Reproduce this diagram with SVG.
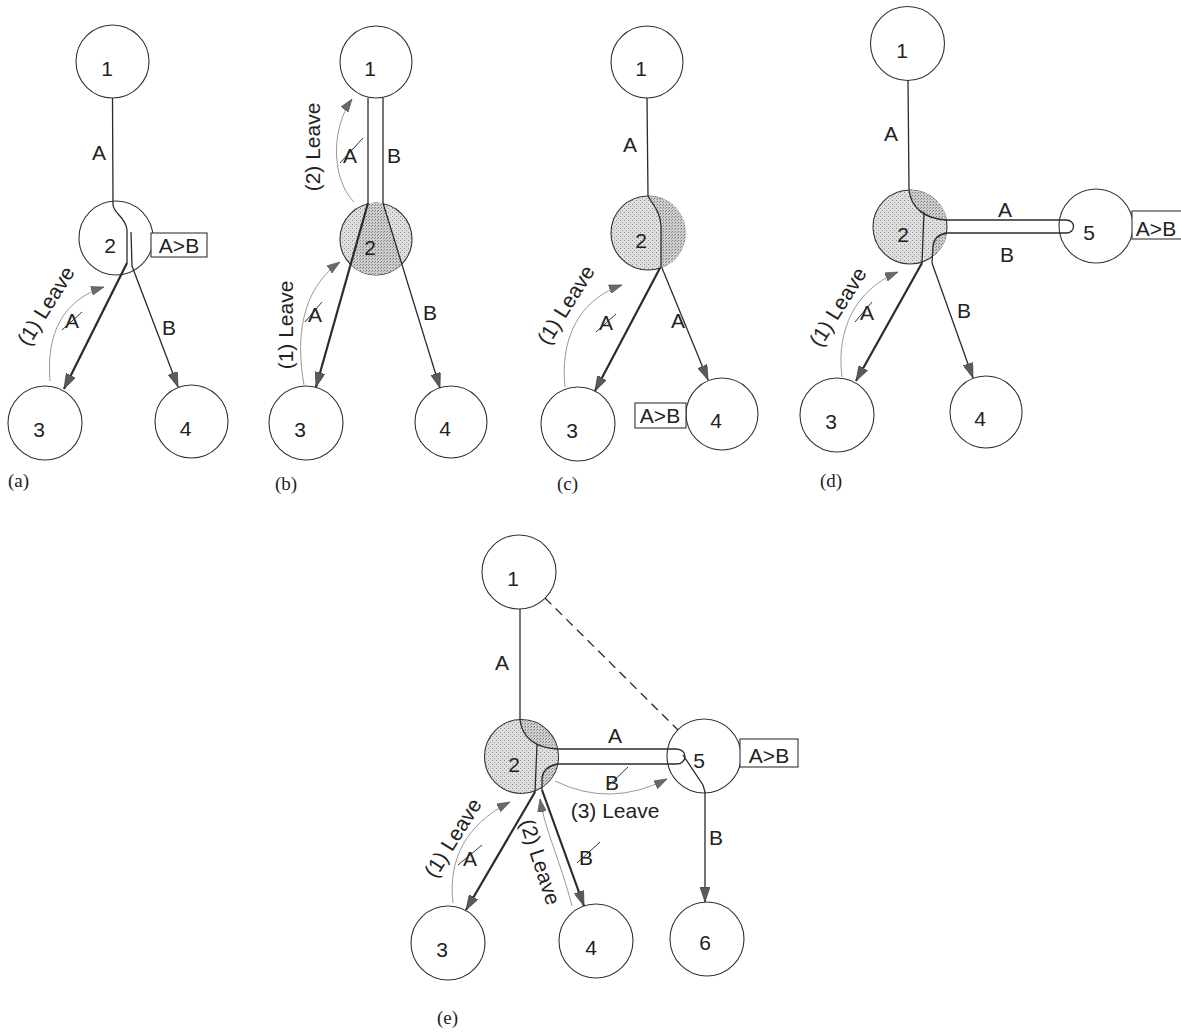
<svg xmlns="http://www.w3.org/2000/svg" width="1181" height="1032" viewBox="0 0 1181 1032">
<defs>
<style>
.node{fill:#fff;stroke:#333;stroke-width:1.1}
.busy{fill:url(#stip);stroke:#333;stroke-width:1.1}
.shade{fill:url(#stipDark);stroke:none}
.lbl{font-family:"Liberation Sans",Arial,sans-serif;font-size:21px;fill:#222;text-anchor:middle}
.cap{font-family:"Liberation Serif","Times New Roman",serif;font-size:19px;fill:#222}
.e{fill:none;stroke:#2b2b2b;stroke-width:1.3}
.thick{stroke-width:2.2}
.lv{fill:none;stroke:#8c8c8c;stroke-width:0.9}
.note{fill:#fff;stroke:#333;stroke-width:1.1}
.strike{stroke:#333;stroke-width:1}
.dash{stroke-dasharray:9 6}
</style>
<!-- stippled fill for a node that holds a forwarding state -->
<pattern id="stip" width="4" height="4" patternUnits="userSpaceOnUse">
  <rect width="4" height="4" fill="#dedede"/>
  <rect x="0" y="0" width="1" height="1" fill="#8c8c8c"/>
  <rect x="2" y="2" width="1" height="1" fill="#a0a0a0"/>
</pattern>
<pattern id="stipDark" width="3" height="3" patternUnits="userSpaceOnUse">
  <rect width="3" height="3" fill="#cdcdcd"/>
  <rect x="0" y="0" width="1" height="1" fill="#7a7a7a"/>
  <rect x="2" y="1" width="1" height="1" fill="#959595"/>
</pattern>
<marker id="head" viewBox="0 0 15 10" refX="15" refY="5" markerWidth="15" markerHeight="10" markerUnits="userSpaceOnUse" orient="auto"><path d="M0,0 L15,5 L0,10 Z" fill="#5a5a5a" stroke="#333" stroke-width="0.6"/></marker>
<marker id="lhead" viewBox="0 0 13 9" refX="13" refY="4.5" markerWidth="13" markerHeight="9" markerUnits="userSpaceOnUse" orient="auto"><path d="M0,0 L13,4.5 L0,9 Z" fill="#6a6a6a" stroke="#444" stroke-width="0.5"/></marker>
</defs>
<rect width="1181" height="1032" fill="#fff"/>

<!-- ===== panel (a) ===== -->
<g id="a-n1"><circle class="node" cx="112.5" cy="61.5" r="36.5"/><text class="lbl" x="107" y="76">1</text></g>
<g id="a-n2"><circle class="node" cx="116" cy="238" r="37"/><text class="lbl" x="110" y="253">2</text>
  <rect class="note" x="151" y="233" width="56" height="24"/><text class="lbl" x="179" y="253">A&gt;B</text></g>
<g id="a-n3"><circle class="node" cx="45" cy="423" r="37"/><text class="lbl" x="39" y="437">3</text></g>
<g id="a-n4"><circle class="node" cx="191.5" cy="421.5" r="36.5"/><text class="lbl" x="185.5" y="436">4</text></g>
<g id="a-edges">
  <path class="e" d="M112.5,98 L113,205 C114,214 126,217 127,230 L127,263"/>
  <path class="e thick" d="M127,263 L64,389" marker-end="url(#head)"/>
  <path class="e" d="M131,232 L132,266 L178,387" marker-end="url(#head)"/>
  <path class="lv" d="M50,381 C46,335 62,300 104,287" marker-end="url(#lhead)"/>
  <text class="lbl" x="99" y="160">A</text>
  <text class="lbl" x="72" y="328">A</text><line class="strike" x1="62" y1="330" x2="82" y2="312"/>
  <text class="lbl" x="169" y="335">B</text>
  <text class="lbl" transform="translate(46,306) rotate(-58)" y="7">(1) Leave</text>
</g>
<text class="cap" x="8" y="487">(a)</text>

<!-- ===== panel (b) ===== -->
<g id="b-n1"><circle class="node" cx="376" cy="62" r="36"/><text class="lbl" x="370" y="76">1</text></g>
<g id="b-n2"><circle class="busy" cx="376" cy="239" r="36"/>
  <path class="shade" d="M368,203 L350.6,264.7 A36,36 0 0 0 401.8,264 L383,203 Z"/>
  <text class="lbl" x="370" y="255">2</text></g>
<g id="b-n3"><circle class="node" cx="306" cy="423" r="37"/><text class="lbl" x="300" y="437">3</text></g>
<g id="b-n4"><circle class="node" cx="451" cy="422" r="36"/><text class="lbl" x="445" y="436">4</text></g>
<g id="b-edges">
  <path class="e" d="M368,98 L368,203"/>
  <path class="e" d="M383,98 L383,203"/>
  <path class="e thick" d="M368,203 L316,387" marker-end="url(#head)"/>
  <path class="e" d="M383,203 L440,388" marker-end="url(#head)"/>
  <path class="lv" d="M354,202 C332,180 330,130 352,99" marker-end="url(#lhead)"/>
  <path class="lv" d="M304,385 C296,340 300,290 340,262" marker-end="url(#lhead)"/>
  <text class="lbl" transform="translate(313,147) rotate(-90)" y="7">(2) Leave</text>
  <text class="lbl" transform="translate(286,325) rotate(-90)" y="7">(1) Leave</text>
  <text class="lbl" x="350" y="163">A</text><line class="strike" x1="340" y1="163" x2="363" y2="138"/>
  <text class="lbl" x="394" y="163">B</text>
  <text class="lbl" x="315" y="322">A</text><line class="strike" x1="305" y1="322" x2="322" y2="302"/>
  <text class="lbl" x="430" y="320">B</text>
</g>
<text class="cap" x="275" y="490">(b)</text>

<!-- ===== panel (c) ===== -->
<g id="c-n1"><circle class="node" cx="647" cy="62" r="36"/><text class="lbl" x="641" y="76">1</text></g>
<g id="c-n2"><circle class="busy" cx="648" cy="233" r="37"/>
  <path class="shade" d="M648,196 C652,204 660,210 661,226 L661,268 A37,37 0 0 0 648,196 Z"/>
  <text class="lbl" x="641" y="248">2</text></g>
<g id="c-n3"><circle class="node" cx="578" cy="424" r="37"/><text class="lbl" x="572" y="438">3</text></g>
<g id="c-n4"><circle class="node" cx="722" cy="414" r="36"/><text class="lbl" x="716" y="428">4</text>
  <rect class="note" x="635" y="403" width="51" height="25"/><text class="lbl" x="660" y="423">A&gt;B</text></g>
<g id="c-edges">
  <path class="e" d="M647,98 L648,196 C652,204 660,210 661,226 L661,268"/>
  <path class="e thick" d="M660,268 L595,391" marker-end="url(#head)"/>
  <path class="e" d="M662,268 L708,380" marker-end="url(#head)"/>
  <path class="lv" d="M565,387 C560,340 578,300 622,285" marker-end="url(#lhead)"/>
  <text class="lbl" x="630" y="152">A</text>
  <text class="lbl" x="606" y="330">A</text><line class="strike" x1="596" y1="332" x2="616" y2="314"/>
  <text class="lbl" x="678" y="328">A</text>
  <text class="lbl" transform="translate(566,305) rotate(-58)" y="7">(1) Leave</text>
</g>
<text class="cap" x="557" y="490">(c)</text>

<!-- ===== panel (d) ===== -->
<g id="d-n1"><circle class="node" cx="907.5" cy="43.5" r="37"/><text class="lbl" x="902" y="58">1</text></g>
<g id="d-n2"><circle class="busy" cx="910" cy="227" r="37"/>
  <path class="shade" d="M909,190 C911,208 925,219 947,220 A37,37 0 0 0 909,190 Z"/>
  <path class="shade" d="M947,233 C940,234 934,238 933,246 L932,257 A37,37 0 0 0 947,233 Z"/>
  <text class="lbl" x="903" y="242">2</text></g>
<g id="d-n5"><circle class="node" cx="1096" cy="226" r="37"/><text class="lbl" x="1089" y="240">5</text>
  <rect class="note" x="1132" y="211" width="55" height="28"/><text class="lbl" x="1156" y="236">A&gt;B</text></g>
<g id="d-n3"><circle class="node" cx="837" cy="415" r="37"/><text class="lbl" x="831" y="429">3</text></g>
<g id="d-n4"><circle class="node" cx="986" cy="412" r="36"/><text class="lbl" x="980" y="426">4</text></g>
<g id="d-edges">
  <path class="e" d="M908,80 L909,190 C911,208 925,219 947,220 L1066,220 C1076,220 1076,233 1066,233 L947,233 C940,234 934,238 933,246 L932,263"/>
  <path class="e" d="M932,263 L973,378" marker-end="url(#head)"/>
  <path class="e" d="M924,212 L922,263"/>
  <path class="e thick" d="M922,263 L856,381" marker-end="url(#head)"/>
  <path class="lv" d="M842,377 C836,330 855,290 898,272" marker-end="url(#lhead)"/>
  <text class="lbl" x="891" y="141">A</text>
  <text class="lbl" x="1005" y="217">A</text>
  <text class="lbl" x="1007" y="262">B</text>
  <text class="lbl" x="964" y="318">B</text>
  <text class="lbl" x="867" y="320">A</text><line class="strike" x1="855" y1="322" x2="872" y2="302"/>
  <text class="lbl" transform="translate(838,307) rotate(-58)" y="7">(1) Leave</text>
</g>
<text class="cap" x="820" y="487">(d)</text>

<!-- ===== panel (e) ===== -->
<g id="e-n1"><circle class="node" cx="519" cy="572" r="37"/><text class="lbl" x="513" y="586">1</text></g>
<g id="e-n2"><circle class="busy" cx="521.5" cy="756.5" r="37"/>
  <path class="shade" d="M520,720 C522,737 535,748 557,749 A37,37 0 0 0 520,720 Z"/>
  <path class="shade" d="M557,765 C548,766 543,770 542,778 L542,787 A37,37 0 0 0 557,765 Z"/>
  <text class="lbl" x="514" y="772">2</text></g>
<g id="e-n5"><circle class="node" cx="704" cy="756" r="37"/><text class="lbl" x="699" y="768">5</text>
  <rect class="note" x="740" y="739" width="58" height="28"/><text class="lbl" x="769" y="763">A&gt;B</text></g>
<g id="e-n3"><circle class="node" cx="448" cy="943" r="37"/><text class="lbl" x="442" y="957">3</text></g>
<g id="e-n4"><circle class="node" cx="596" cy="941" r="37"/><text class="lbl" x="591" y="955">4</text></g>
<g id="e-n6"><circle class="node" cx="707" cy="939" r="37"/><text class="lbl" x="705" y="950">6</text></g>
<g id="e-edges">
  <path class="e dash" d="M545,598 L678,730"/>
  <path class="e" d="M520,609 L520,720 C522,737 535,748 557,749 L676,749 C688,749 688,764 676,764 L557,764 C548,766 543,770 542,778 L542,790"/>
  <path class="e" d="M683,755 L703,785 L705,792 L705,902" marker-end="url(#head)"/>
  <path class="e thick" d="M542,790 L584,906" marker-end="url(#head)"/>
  <path class="e" d="M537,745 L535,792"/>
  <path class="e thick" d="M535,792 L466,910" marker-end="url(#head)"/>
  <path class="lv" d="M555,781 Q610,808 667,779" marker-end="url(#lhead)"/>
  <path class="lv" d="M453,903 C448,860 465,825 510,802" marker-end="url(#lhead)"/>
  <path class="lv" d="M572,906 C560,860 545,830 540,799" marker-end="url(#lhead)"/>
  <text class="lbl" x="502" y="670">A</text>
  <text class="lbl" x="615" y="743">A</text>
  <text class="lbl" x="612" y="790">B</text><line class="strike" x1="607" y1="787" x2="628" y2="767"/>
  <text class="lbl" x="615" y="818">(3) Leave</text>
  <text class="lbl" x="716" y="845">B</text>
  <text class="lbl" x="586" y="865">B</text><line class="strike" x1="577" y1="863" x2="600" y2="842"/>
  <text class="lbl" x="470" y="866">A</text><line class="strike" x1="458" y1="865" x2="482" y2="845"/>
  <text class="lbl" transform="translate(453,838) rotate(-58)" y="7">(1) Leave</text>
  <text class="lbl" transform="translate(540,862) rotate(72)" y="7">(2) Leave</text>
</g>
<text class="cap" x="437" y="1024">(e)</text>
</svg>
